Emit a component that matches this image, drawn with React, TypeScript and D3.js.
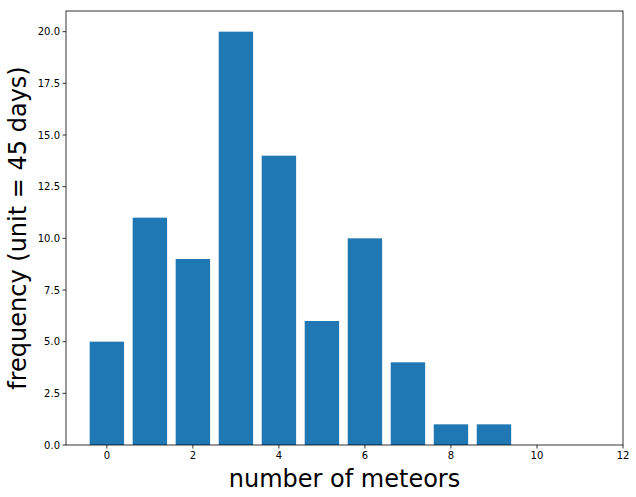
import React from "react";
import * as d3 from "d3";

const categories = [0, 1, 2, 3, 4, 5, 6, 7, 8, 9];
const values = [5, 11, 9, 20, 14, 6, 10, 4, 1, 1];
const xTicks = [0, 2, 4, 6, 8, 10, 12];
const yTicks = [0, 2.5, 5, 7.5, 10, 12.5, 15, 17.5, 20];

export default function App() {
  const W = 636, H = 497;
  const L = 66, R = 623, T = 11, B = 445;
  const x = d3.scaleLinear().domain([-0.95, 12]).range([L, R]);
  const y = d3.scaleLinear().domain([0, 21]).range([B, T]);
  const bw = x(0.8) - x(0);
  const font = "DejaVu Sans, sans-serif";
  return (
    <svg width={W} height={H} style={{ position: "absolute", left: 0, top: 0 }}>
      <rect width={W} height={H} fill="white" />
      {categories.map((c, i) => (
        <rect key={c} x={x(c - 0.4)} y={y(values[i])} width={bw} height={B - y(values[i])} fill="#1f77b4" />
      ))}
      <rect x={L} y={T} width={R - L} height={B - T} fill="none" stroke="black" strokeWidth={0.8} />
      {xTicks.map((t) => (
        <g key={t}>
          <line x1={x(t)} x2={x(t)} y1={B} y2={B + 3.5} stroke="black" strokeWidth={0.8} />
          <text x={x(t)} y={B + 14} fontSize={10} fontFamily={font} textAnchor="middle">{t}</text>
        </g>
      ))}
      {yTicks.map((t) => (
        <g key={t}>
          <line x1={L - 3.5} x2={L} y1={y(t)} y2={y(t)} stroke="black" strokeWidth={0.8} />
          <text x={L - 6} y={y(t) + 3.5} fontSize={10} fontFamily={font} textAnchor="end">{t.toFixed(1)}</text>
        </g>
      ))}
      <text x={(L + R) / 2} y={487} fontSize={24} fontFamily={font} textAnchor="middle">number of meteors</text>
      <text transform={`translate(26,${(T + B) / 2}) rotate(-90)`} fontSize={24} fontFamily={font} textAnchor="middle">frequency (unit = 45 days)</text>
    </svg>
  );
}
